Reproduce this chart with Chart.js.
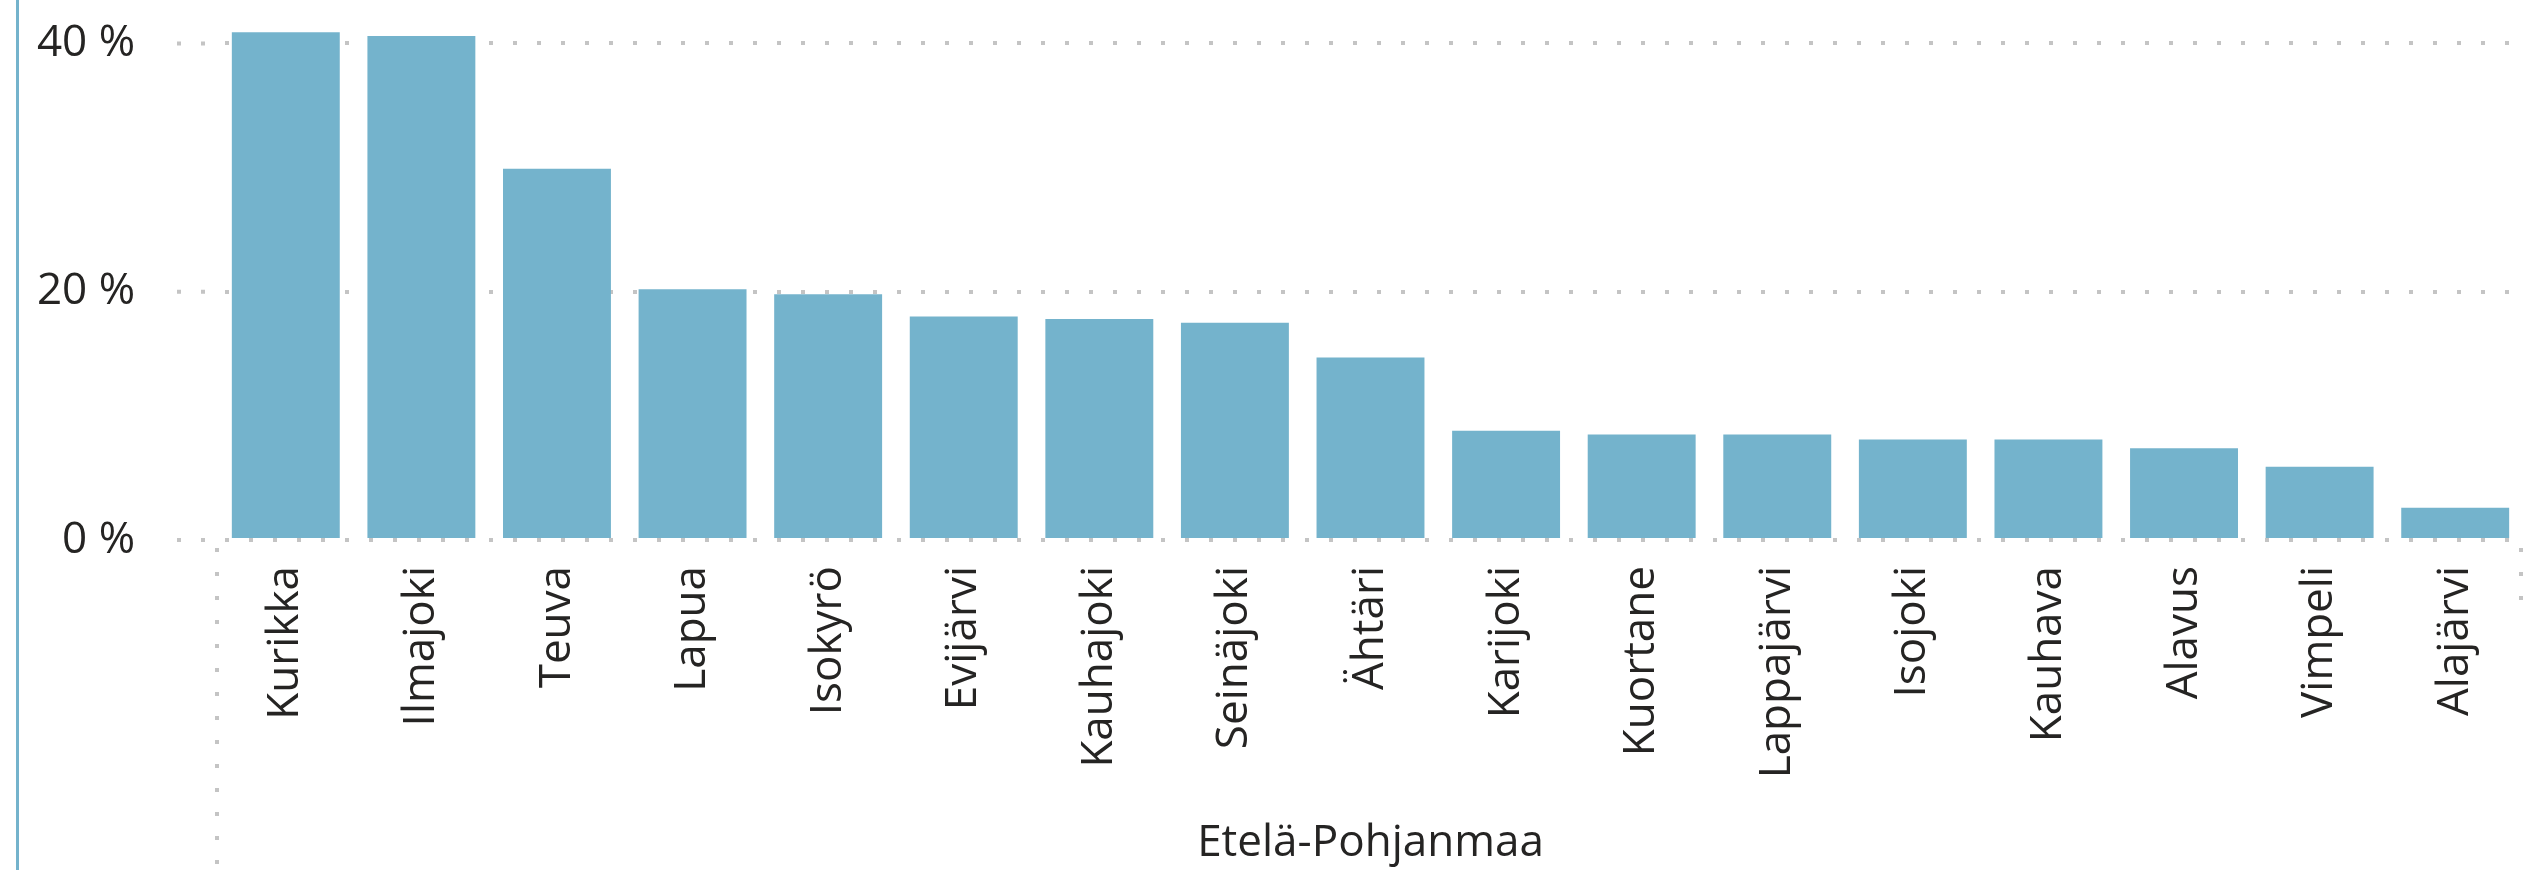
<!DOCTYPE html>
<html>
<head>
<meta charset="utf-8">
<script src="https://cdn.jsdelivr.net/npm/chart.js@4/dist/chart.umd.min.js"></script>
<style>
    html, body { margin: 0; padding: 0; background: #ffffff; }
    #wrap { position: relative; width: 2534px; height: 870px; overflow: hidden; }
    #leftBorder { position: absolute; left: 16px; top: 0; width: 3px; height: 870px; background: #74b3cc; }
    canvas#shareChart { position: absolute; left: 0; top: 0; }
</style>
</head>
<body>
<div id="wrap">
    <div id="leftBorder"></div>
    <canvas id="shareChart"></canvas>
</div>
<script>
// Kunnat (x-akseli) ja osuudet prosentteina
const municipalities = [
    'Kurikka', 'Ilmajoki', 'Teuva', 'Lapua', 'Isokyrö', 'Evijärvi', 'Kauhajoki', 'Seinäjoki', 'Ähtäri',
    'Karijoki', 'Kuortane', 'Lappajärvi', 'Isojoki', 'Kauhava', 'Alavus', 'Vimpeli', 'Alajärvi'
];
const shares = [40.9, 40.6, 29.9, 20.2, 19.8, 18.0, 17.8, 17.5, 14.7, 8.8, 8.5, 8.5, 8.1, 8.1, 7.4, 5.9, 2.6];
const yTickValues = [0, 20, 40];
const regionTitle = 'Etelä-Pohjanmaa';

const barColor = '#74b3cc';
const gridColor = '#c4c4c4';
const textColor = '#252423';
const fontFamily = '"Segoe UI", "Open Sans", "Noto Sans", sans-serif';
const dotDash = [4, 20];

document.addEventListener('DOMContentLoaded', () => {
    const canvas = document.querySelector('canvas#shareChart');
    canvas.style.width = '2534px';
    canvas.style.height = '870px';
    canvas.width = 2534;
    canvas.height = 870;

    // pisteviivat: gridin jatke vasemmalle + pystyviivat x-akselin alla (Power BI -tyyli)
    const separatorLines = {
        id: 'separatorLines',
        beforeDatasetsDraw(chart) {
            const { ctx, chartArea } = chart;
            const yScale = chart.scales.y;
            ctx.save();
            ctx.strokeStyle = gridColor;
            ctx.lineWidth = 4;
            ctx.setLineDash(dotDash);
            ctx.beginPath();
            yTickValues.forEach(v => {
                const py = yScale.getPixelForValue(v);
                ctx.moveTo(chartArea.left - 41, py);
                ctx.lineTo(chartArea.left - 4, py);
            });
            ctx.moveTo(chartArea.left - 1, chartArea.bottom + 8);
            ctx.lineTo(chartArea.left - 1, chart.height);
            ctx.moveTo(chartArea.right - 2, chartArea.bottom + 8);
            ctx.lineTo(chartArea.right - 2, chartArea.bottom + 70);
            ctx.stroke();
            ctx.restore();
        }
    };

    new Chart(canvas, {
        type: 'bar',
        data: {
            labels: municipalities,
            datasets: [{
                label: regionTitle,
                data: shares,
                backgroundColor: barColor,
                borderWidth: 0,
                categoryPercentage: 1,
                barPercentage: 0.796
            }]
        },
        options: {
            responsive: false,
            maintainAspectRatio: false,
            animation: false,
            layout: { padding: { left: 0, right: 11, top: 0, bottom: 0 } },
            plugins: {
                legend: { display: false },
                tooltip: { enabled: false }
            },
            scales: {
                x: {
                    border: { display: false },
                    grid: { display: false, drawTicks: false },
                    ticks: {
                        autoSkip: false,
                        maxRotation: 90,
                        minRotation: 90,
                        padding: 26,
                        color: textColor,
                        font: { family: fontFamily, size: 44 }
                    },
                    title: {
                        display: true,
                        text: regionTitle,
                        color: textColor,
                        padding: { top: 0, bottom: 0 },
                        font: { family: fontFamily, size: 44 }
                    },
                    afterFit: (scale) => {
                        scale.height = 330;
                        scale.paddingLeft = 0;
                        scale.paddingRight = 0;
                    }
                },
                y: {
                    min: 0,
                    max: 43.5,
                    // v4: grid line dash lives under border
                    border: { display: false, dash: dotDash, dashOffset: 17 },
                    grid: {
                        color: gridColor,
                        lineWidth: 4,
                        drawTicks: false
                    },
                    ticks: {
                        padding: 83,
                        color: textColor,
                        font: { family: fontFamily, size: 44 },
                        callback: (v) => v + ' %'
                    },
                    afterBuildTicks: (scale) => {
                        scale.ticks = yTickValues.map(v => ({ value: v }));
                    },
                    afterFit: (scale) => {
                        scale.width = 218;
                        scale.paddingTop = 0;
                        scale.paddingBottom = 0;
                    }
                }
            }
        },
        plugins: [separatorLines]
    });
});
</script>
</body>
</html>
